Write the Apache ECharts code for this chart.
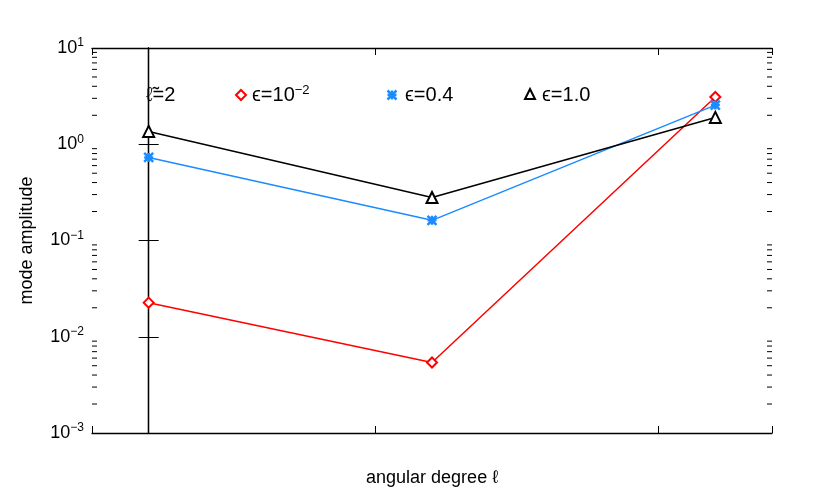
<!DOCTYPE html><html><head><meta charset="utf-8"><script src="https://cdn.jsdelivr.net/npm/echarts@6/dist/echarts.min.js"></script></head><body style="margin:0"><div id="c" style="width:830px;height:498px"></div><script>
var degrees=[0,1,2];
var eps001=[0.0226,0.0054,3.1];
var eps04=[0.73,0.162,2.55];
var eps10=[1.36,0.28,1.9];
function pts(v){return degrees.map(function(d,i){return [d,v[i]];});}
var minor=[];for(var e=-3;e<1;e++)for(var m=2;m<10;m++)minor.push(m*Math.pow(10,e));
var F='Liberation Sans, Arial, sans-serif';
var ch=echarts.init(document.getElementById('c'));
function sup(b,p){return '{b|'+b+'}{s|'+p+'}';}
function star(cx,cy,r,col){return [
 {type:'line',shape:{x1:cx-r,y1:cy-r,x2:cx+r,y2:cy+r},style:{stroke:col,lineWidth:2.5}},
 {type:'line',shape:{x1:cx+r,y1:cy-r,x2:cx-r,y2:cy+r},style:{stroke:col,lineWidth:2.5}},
 {type:'line',shape:{x1:cx,y1:cy-r,x2:cx,y2:cy+r},style:{stroke:col,lineWidth:2.5}},
 {type:'line',shape:{x1:cx-r,y1:cy,x2:cx+r,y2:cy},style:{stroke:col,lineWidth:2.5}}];}
ch.setOption({animation:false,
grid:{left:92,right:58,top:48,bottom:65},
xAxis:[{type:'value',min:-0.2,max:2.2,interval:1,position:'bottom',name:'angular degree ℓ',nameLocation:'middle',nameGap:36,nameTextStyle:{fontFamily:F,fontSize:18,color:'#000'},
 axisLine:{lineStyle:{color:'#000',width:1.3}},axisTick:{inside:true,length:7,lineStyle:{color:'#000'}},splitLine:{show:false},
 axisLabel:{fontFamily:F,fontSize:18,color:'#000',margin:12,formatter:function(v){return Math.abs(v-Math.round(v))<1e-6&&v>-0.01?String(Math.round(v)):'';}}},
 {type:'value',min:-0.2,max:2.2,interval:1,position:'top',axisLine:{lineStyle:{color:'#000',width:1.3}},axisTick:{inside:true,length:7,lineStyle:{color:'#000'}},axisLabel:{show:false},splitLine:{show:false}}],
yAxis:[{type:'log',min:0.001,max:10,logBase:10,name:'mode amplitude',nameLocation:'middle',nameGap:56,nameTextStyle:{fontFamily:F,fontSize:18,color:'#000'},
 axisLine:{lineStyle:{color:'#000',width:1.3}},axisTick:{inside:true,length:10,lineStyle:{color:'#000'}},splitLine:{show:false},
 axisLabel:{fontFamily:F,color:'#000',margin:8,formatter:function(v){var e=Math.round(Math.log10(v));return sup('10',e<0?'−'+(-e):String(e));},
 rich:{b:{fontFamily:F,fontSize:18,color:'#000'},s:{fontFamily:F,fontSize:12,color:'#000',verticalAlign:'top',padding:[0,0,10,0]}}}},
 {type:'log',min:0.001,max:10,logBase:10,position:'right',axisLine:{lineStyle:{color:'#000',width:1.3}},axisTick:{inside:true,length:10,lineStyle:{color:'#000'}},axisLabel:{show:false},splitLine:{show:false}}],
series:[
{type:'custom',xAxisIndex:0,yAxisIndex:0,silent:true,data:minor.map(function(v){return [0,v];}),renderItem:function(p,api){var y=api.coord([0,api.value(1)])[1];var cs=p.coordSys;return {type:'group',children:[
 {type:'line',shape:{x1:cs.x,y1:y,x2:cs.x+5,y2:y},style:{stroke:'#000',lineWidth:1}},
 {type:'line',shape:{x1:cs.x+cs.width,y1:y,x2:cs.x+cs.width-5,y2:y},style:{stroke:'#000',lineWidth:1}}]};}},
{type:'line',xAxisIndex:0,yAxisIndex:0,data:pts(eps001),symbol:'diamond',symbolSize:10,itemStyle:{color:'#fff',borderColor:'#f00',borderWidth:2},lineStyle:{color:'#f00',width:1.5}},
{type:'line',xAxisIndex:0,yAxisIndex:0,data:pts(eps04),symbol:'path://M0,0L10,10M10,0L0,10M5,0L5,10M0,5L10,5',symbolSize:9,itemStyle:{color:'#1a8cff',borderColor:'#1a8cff',borderWidth:2.5},lineStyle:{color:'#1a8cff',width:1.5}},
{type:'line',xAxisIndex:0,yAxisIndex:0,data:pts(eps10),symbol:'triangle',symbolSize:11,itemStyle:{color:'#fff',borderColor:'#000',borderWidth:2},lineStyle:{color:'#000',width:1.5}}],
graphic:[
{type:'text',left:146,top:85,style:{text:'ℓ̃=2',font:'20px '+F,fill:'#000'}},
{type:'polygon',shape:{points:[[241,90],[246,95],[241,100],[236,95]]},style:{fill:'#fff',stroke:'#f00',lineWidth:2}},
{type:'text',left:252,top:84,style:{text:'{b|ϵ=10}{s|−2}',rich:{b:{font:'20px '+F,fill:'#000'},s:{font:'13px '+F,fill:'#000',verticalAlign:'top',padding:[0,0,10,0]}}}},
{type:'group',children:star(392,95,4.5,'#1a8cff')},
{type:'text',left:405,top:85,style:{text:'ϵ=0.4',font:'20px '+F,fill:'#000'}},
{type:'polygon',shape:{points:[[530,89],[535,99],[525,99]]},style:{fill:'#fff',stroke:'#000',lineWidth:2}},
{type:'text',left:542,top:85,style:{text:'ϵ=1.0',font:'20px '+F,fill:'#000'}}]
});
</script></body></html>
